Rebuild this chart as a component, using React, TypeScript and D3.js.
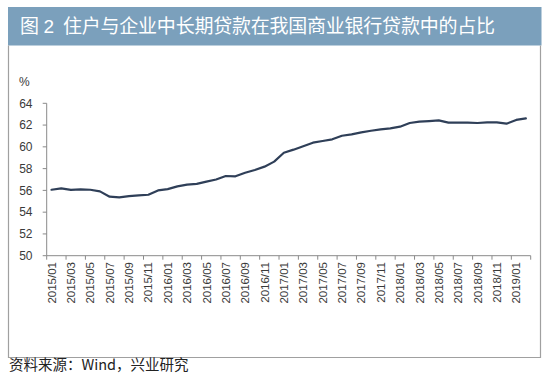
import React from "react";
import * as d3 from "d3";

const categories: string[] = [
  "2015/01","2015/02","2015/03","2015/04","2015/05","2015/06","2015/07","2015/08","2015/09","2015/10","2015/11","2015/12",
  "2016/01","2016/02","2016/03","2016/04","2016/05","2016/06","2016/07","2016/08","2016/09","2016/10","2016/11","2016/12",
  "2017/01","2017/02","2017/03","2017/04","2017/05","2017/06","2017/07","2017/08","2017/09","2017/10","2017/11","2017/12",
  "2018/01","2018/02","2018/03","2018/04","2018/05","2018/06","2018/07","2018/08","2018/09","2018/10","2018/11","2018/12",
  "2019/01","2019/02",
];

const shareValues: number[] = [
  56.06, 56.19, 56.04, 56.1, 56.06, 55.91, 55.42, 55.36, 55.48, 55.54, 55.6, 56.0,
  56.12, 56.37, 56.53, 56.6, 56.8, 57.0, 57.32, 57.29, 57.62, 57.87, 58.18, 58.64,
  59.46, 59.74, 60.06, 60.38, 60.54, 60.69, 61.02, 61.15, 61.33, 61.48, 61.61, 61.7,
  61.85, 62.19, 62.31, 62.37, 62.43, 62.22, 62.22, 62.22, 62.19, 62.25, 62.25, 62.13,
  62.47, 62.62,
];

const yTicks: number[] = [50, 52, 54, 56, 58, 60, 62, 64];

const titleFig = "图";
const titleNum = "2";
const titleText = "住户与企业中长期贷款在我国商业银行贷款中的占比";
const unitLabel = "%";
const sourceText = "资料来源：Wind，兴业研究";

export default function App() {
  const W = 550, H = 381;
  const x0 = 46.7, x1 = 530.7;
  const yTop = 103.3, yBot = 255.7;

  const x = d3.scaleBand<string>().domain(categories).range([x0, x1]).padding(0);
  const y = d3.scaleLinear().domain([50, 64]).range([yBot, yTop]);

  const line = d3
    .line<number>()
    .x((_, i) => (x(categories[i]) as number) + x.bandwidth() / 2)
    .y((d) => y(d))
    .curve(d3.curveLinear);

  const tickIdx = categories.map((_, i) => i).filter((i) => i % 2 === 0);
  const tickXs = [...tickIdx.map((i) => x(categories[i]) as number), x1];

  const font = "'Liberation Sans', Arial, 'Noto Sans CJK SC', sans-serif";
  const cjk = "'Noto Sans CJK SC', 'Liberation Sans', sans-serif";
  const textCol = "#3a3a3a";
  const axisCol = "#8a8a8a";

  return (
    <svg
      width={W}
      height={H}
      style={{ position: "absolute", left: 0, top: 0, background: "#fff" }}
    >
      {/* title bar */}
      <rect x={8} y={7} width={533.5} height={38.5} fill="#7ba0bc" />
      <text x={20} y={33} fill="#fff" fontFamily={cjk} fontSize={19}>
        {titleFig}
      </text>
      <text x={43.5} y={33} fill="#fff" fontFamily={font} fontSize={19}>
        {titleNum}
      </text>
      <text x={63} y={33} fill="#fff" fontFamily={cjk} fontSize={19} textLength={432} lengthAdjust="spacing">
        {titleText}
      </text>

      {/* box */}
      <path
        d={`M8.5,45.5 V357.5 H540.5 V45.5`}
        fill="none"
        stroke="#a0a0a0"
        strokeWidth={1.2}
      />

      {/* unit */}
      <text x={19} y={86} fill={textCol} fontFamily={font} fontSize={12}>
        {unitLabel}
      </text>

      {/* y axis */}
      <line x1={x0} x2={x0} y1={yTop} y2={yBot} stroke={axisCol} strokeWidth={1} />
      {yTicks.map((t) => (
        <g key={t}>
          <line x1={x0 - 4} x2={x0} y1={y(t)} y2={y(t)} stroke={axisCol} strokeWidth={1} />
          <text
            x={32.5}
            y={y(t)}
            dy="0.36em"
            textAnchor="end"
            fill={textCol}
            fontFamily={font}
            fontSize={12}
          >
            {t}
          </text>
        </g>
      ))}

      {/* x axis */}
      <line x1={x0} x2={x1} y1={yBot} y2={yBot} stroke={axisCol} strokeWidth={1} />
      {tickXs.map((tx, k) => (
        <line key={k} x1={tx} x2={tx} y1={yBot} y2={yBot + 4} stroke={axisCol} strokeWidth={1} />
      ))}
      {tickIdx.map((i) => {
        const cx = (x(categories[i]) as number) + x.bandwidth() / 2;
        return (
          <text
            key={i}
            transform={`translate(${cx},${262}) rotate(-90)`}
            textAnchor="end"
            dy="0.36em"
            fill={textCol}
            fontFamily={font}
            fontSize={11.5}
          >
            {categories[i]}
          </text>
        );
      })}

      {/* series line */}
      <path
        d={line(shareValues) || ""}
        fill="none"
        stroke="#2f3f58"
        strokeWidth={2.2}
        strokeLinejoin="round"
        strokeLinecap="round"
      />

      {/* source */}
      <text x={9} y={370} fill="#222" fontFamily={cjk} fontSize={14.5}>
        {sourceText}
      </text>
    </svg>
  );
}
